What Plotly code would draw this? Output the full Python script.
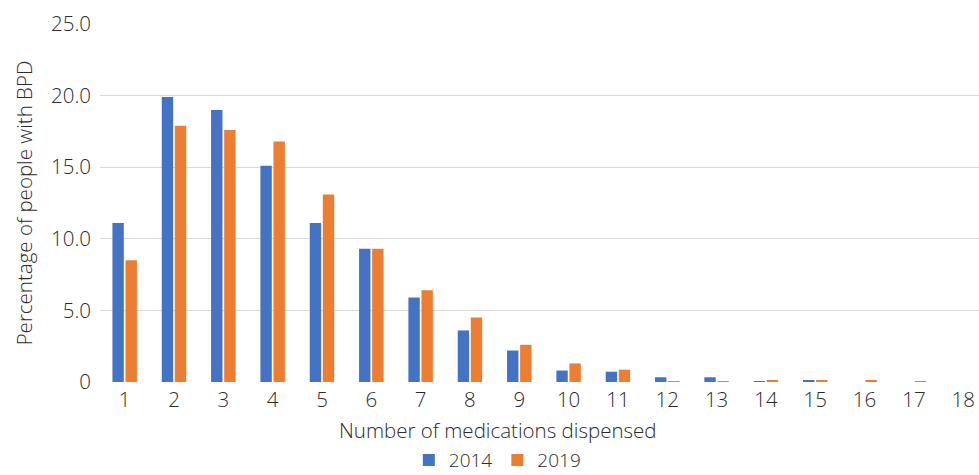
import plotly.graph_objects as go

# Number of medications dispensed per person
medications = list(range(1, 19))

# Percentage of people with BPD, by year
pct_2014 = [11.1, 19.9, 19.0, 15.1, 11.1, 9.3, 5.9, 3.6, 2.2, 0.8, 0.72, 0.33, 0.33, 0.03, 0.1, 0.0, 0.0, 0.0]
pct_2019 = [8.5, 17.9, 17.6, 16.8, 13.1, 9.3, 6.4, 4.5, 2.6, 1.3, 0.86, 0.07, 0.07, 0.14, 0.14, 0.14, 0.03, 0.0]

y_ticks = [0, 5, 10, 15, 20, 25]
y_tick_text = ["0", "5.0", "10.0", "15.0", "20.0", "25.0"]

FONT = "Open Sans"
TEXT = "#2b2b2b"
SIZE = 20.5
WEIGHT = 300

fig = go.Figure()
fig.add_trace(go.Bar(x=medications, y=pct_2014, name="2014",
                     marker=dict(color="#4472C4", line=dict(width=0))))
fig.add_trace(go.Bar(x=medications, y=pct_2019, name="2019",
                     marker=dict(color="#ED7D31", line=dict(width=0))))

fig.update_layout(
    width=979, height=475,
    margin=dict(l=100, r=0, t=24, b=93, autoexpand=False),
    paper_bgcolor="white", plot_bgcolor="white",
    barmode="group", bargap=0.47, bargroupgap=0.13,
    font=dict(family=FONT, size=SIZE, color=TEXT, weight=WEIGHT),
    legend=dict(orientation="h", x=0.452, xanchor="center",
                yref="paper", y=-0.218, yanchor="middle",
                font=dict(size=19, color=TEXT, weight=WEIGHT),
                itemwidth=30, traceorder="normal"),
    xaxis=dict(
        range=[0.5, 18.32], tickmode="array", tickvals=medications,
        ticktext=[str(m) for m in medications], showgrid=False, zeroline=False,
        showline=False, ticks="", automargin=False, ticklabelstandoff=3,
        tickfont=dict(size=SIZE, color=TEXT, weight=WEIGHT),
    ),
    yaxis=dict(
        range=[0, 25], tickmode="array", tickvals=y_ticks, ticktext=y_tick_text,
        showgrid=True, gridcolor="#d9d9d9", gridwidth=1, zeroline=False,
        showline=False, ticks="", ticklabelstandoff=8, automargin=False,
        tickfont=dict(size=SIZE, color=TEXT, weight=WEIGHT),
        title=dict(text="Percentage of people with BPD", standoff=12,
                   font=dict(size=SIZE, color=TEXT, weight=WEIGHT)),
    ),
    annotations=[dict(
        text="Number of medications dispensed", xref="paper", yref="paper",
        x=0.453, y=-0.134, xanchor="center", yanchor="middle", showarrow=False,
        font=dict(size=SIZE, color=TEXT, weight=WEIGHT),
    )],
)

fig.write_html("out.html")
